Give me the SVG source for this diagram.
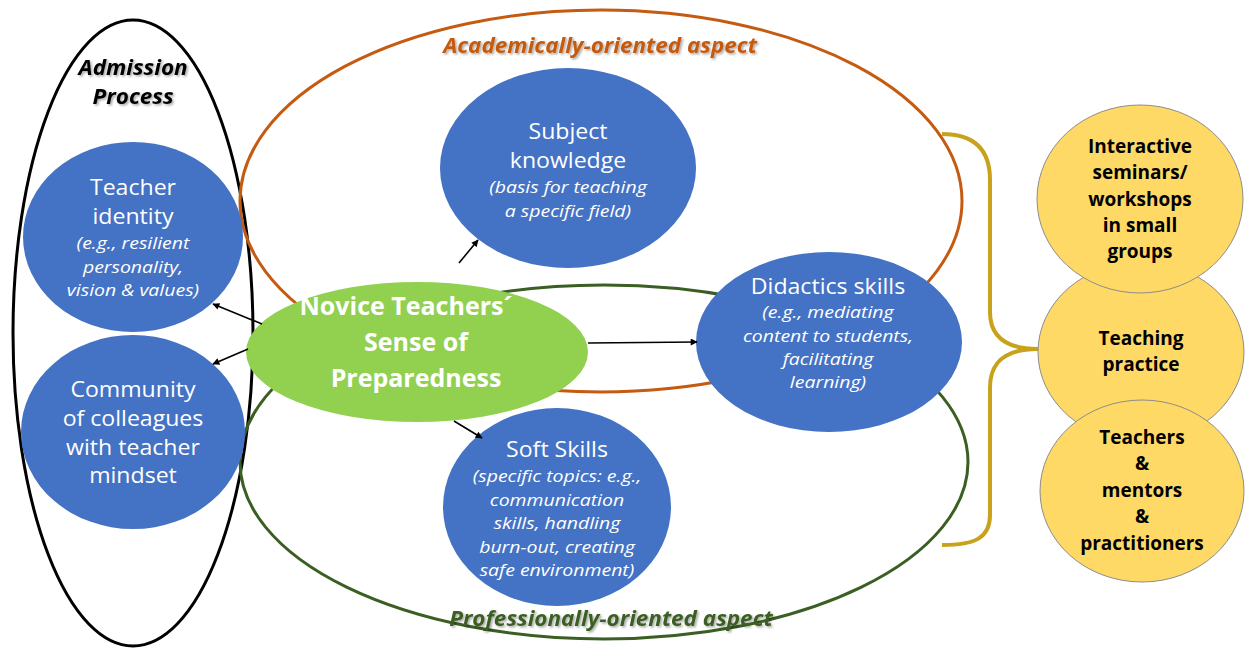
<svg xmlns="http://www.w3.org/2000/svg" width="1248" height="648" viewBox="0 0 1248 648">
  <style>
    .ring { fill: none; stroke-width: 3; }
    .blue { fill: #4472C4; }
    .gold { fill: #FFD966; stroke: #8C8C8C; stroke-width: 1; }
    .t { font-family: "Open Sans", "Noto Sans", sans-serif; text-anchor: middle; transform-box: fill-box; transform-origin: center; }
    .head { fill: #fff; font-size: 21px; transform: scaleX(1.1); }
    .note { fill: #fff; font-size: 16.5px; font-style: italic; transform: scaleX(1.18); }
    .core { fill: #fff; font-size: 25px; font-weight: bold; }
    .gtxt { fill: #000; font-size: 19px; font-weight: bold; }
    .lbl { font-size: 21px; font-weight: bold; font-style: italic; transform: scaleX(1.07); }
    .arrow { stroke: #000; stroke-width: 1.6; fill: none; marker-end: url(#tip); }
  </style>
  <defs>
    <marker id="tip" viewBox="0 0 10 10" refX="9" refY="5" markerWidth="8" markerHeight="7" orient="auto" markerUnits="userSpaceOnUse">
      <path d="M0,0 L10,5 L0,10 z" fill="#000"/>
    </marker>
    <filter id="shade" x="-10%" y="-30%" width="120%" height="160%">
      <feDropShadow dx="1.5" dy="1.5" stdDeviation="1.2" flood-color="#000" flood-opacity="0.35"/>
    </filter>
  </defs>

  <rect width="1248" height="648" fill="#fff"/>

  <!-- grouping outlines -->
  <g id="admission">
    <ellipse class="ring" cx="133" cy="333" rx="120" ry="313" stroke="#000"/>
    <text class="t lbl" fill="#000" filter="url(#shade)"><tspan x="133" y="75">Admission</tspan><tspan x="133" y="104">Process</tspan></text>
  </g>
  <g id="academic">
    <ellipse class="ring" cx="601" cy="201" rx="361" ry="191" stroke="#C55A11"/>
    <text class="t lbl" fill="#C55A11" x="600" y="53" filter="url(#shade)">Academically-oriented aspect</text>
  </g>
  <g id="professional">
    <ellipse class="ring" cx="604" cy="462" rx="364" ry="177" stroke="#3B5E22"/>
    <text class="t lbl" fill="#3B5E22" x="611" y="626" filter="url(#shade)">Professionally-oriented aspect</text>
  </g>

  <!-- brace toward the formats -->
  <g id="brace">
    <path d="M942,134 C975,134 990,150 990,180 L990,312 C990,336 1005,349 1038,349 C1005,349 990,362 990,388 L990,515 C990,538 975,545 942,545" fill="none" stroke="#C9A21B" stroke-width="4"/>
  </g>

  <g id="teacher-identity">
    <ellipse class="blue" cx="133" cy="237" rx="110" ry="95"/>
    <text class="t head"><tspan x="133" y="195">Teacher</tspan><tspan x="133" y="224">identity</tspan></text>
    <text class="t note"><tspan x="133" y="249">(e.g., resilient</tspan><tspan x="133" y="273">personality,</tspan><tspan x="133" y="296">vision &amp; values)</tspan></text>
  </g>

  <g id="community">
    <ellipse class="blue" cx="133" cy="432" rx="112" ry="97"/>
    <text class="t head"><tspan x="133" y="397">Community</tspan><tspan x="133" y="426">of colleagues</tspan><tspan x="133" y="455">with teacher</tspan><tspan x="133" y="483">mindset</tspan></text>
  </g>

  <g id="subject-knowledge">
    <ellipse class="blue" cx="568" cy="168" rx="128" ry="100"/>
    <text class="t head"><tspan x="568" y="139">Subject</tspan><tspan x="568" y="168">knowledge</tspan></text>
    <text class="t note"><tspan x="568" y="193">(basis for teaching</tspan><tspan x="568" y="217">a specific field)</tspan></text>
  </g>

  <g id="didactics">
    <ellipse class="blue" cx="829" cy="342" rx="133" ry="90"/>
    <text class="t head" x="828" y="294">Didactics skills</text>
    <text class="t note"><tspan x="828" y="318">(e.g., mediating</tspan><tspan x="828" y="342">content to students,</tspan><tspan x="828" y="365">facilitating</tspan><tspan x="828" y="388">learning)</tspan></text>
  </g>

  <g id="soft-skills">
    <ellipse class="blue" cx="557" cy="507" rx="114" ry="99"/>
    <text class="t head" x="557" y="457">Soft Skills</text>
    <text class="t note"><tspan x="557" y="482">(specific topics: e.g.,</tspan><tspan x="557" y="506">communication</tspan><tspan x="557" y="529">skills, handling</tspan><tspan x="557" y="553">burn-out, creating</tspan><tspan x="557" y="576">safe environment)</tspan></text>
  </g>

  <g id="preparedness">
    <ellipse cx="417" cy="352" rx="171" ry="70" fill="#92D050"/>
    <text class="t core"><tspan x="406" y="315">Novice Teachers´</tspan><tspan x="416" y="351">Sense of</tspan><tspan x="416" y="387">Preparedness</tspan></text>
  </g>

  <!-- formats, middle one sits underneath -->
  <g id="teaching-practice">
    <ellipse class="gold" cx="1141" cy="352" rx="103" ry="90"/>
    <text class="t gtxt"><tspan x="1141" y="345">Teaching</tspan><tspan x="1141" y="371">practice</tspan></text>
  </g>
  <g id="seminars">
    <ellipse class="gold" cx="1140" cy="199" rx="103" ry="94"/>
    <text class="t gtxt"><tspan x="1140" y="153">Interactive</tspan><tspan x="1140" y="179">seminars/</tspan><tspan x="1140" y="206">workshops</tspan><tspan x="1140" y="232">in small</tspan><tspan x="1140" y="258">groups</tspan></text>
  </g>
  <g id="mentors">
    <ellipse class="gold" cx="1142" cy="491" rx="102" ry="91"/>
    <text class="t gtxt"><tspan x="1142" y="444">Teachers</tspan><tspan x="1142" y="470">&amp;</tspan><tspan x="1142" y="497">mentors</tspan><tspan x="1142" y="523">&amp;</tspan><tspan x="1142" y="550">practitioners</tspan></text>
  </g>

  <g id="connectors">
    <line class="arrow" x1="262" y1="324" x2="213" y2="304"/>
    <line class="arrow" x1="248" y1="349" x2="213" y2="364"/>
    <line class="arrow" x1="459" y1="263" x2="478" y2="240"/>
    <line class="arrow" x1="588" y1="343" x2="697" y2="342"/>
    <line class="arrow" x1="454" y1="421" x2="482" y2="438"/>
  </g>
</svg>
